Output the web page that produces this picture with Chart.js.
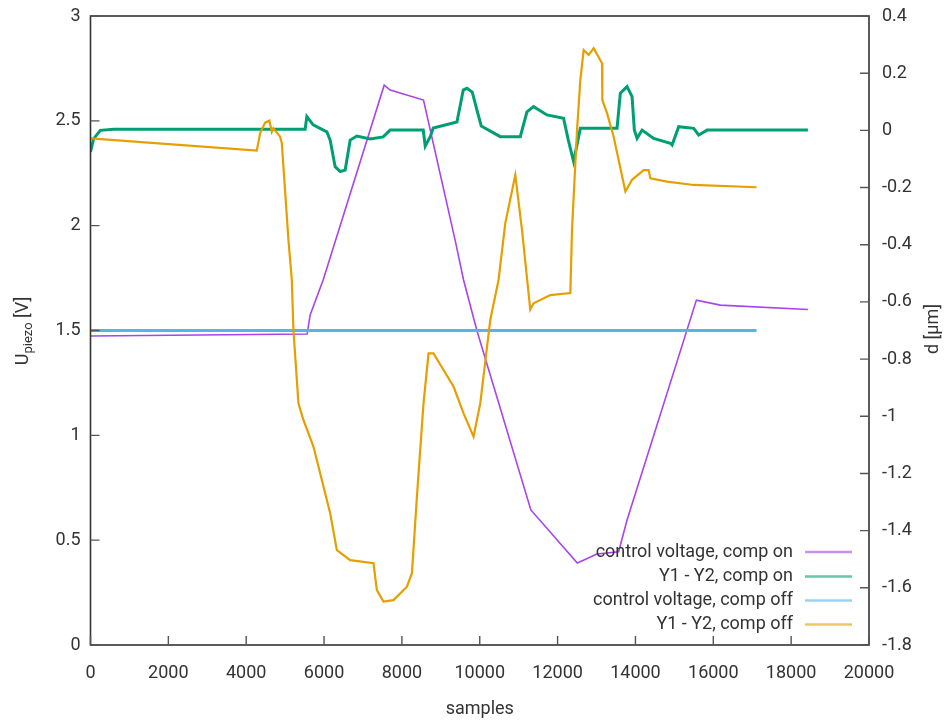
<!DOCTYPE html>
<html>
<head>
<meta charset="utf-8">
<script src="https://cdn.jsdelivr.net/npm/chart.js@4/dist/chart.umd.min.js"></script>
<style>
html,body{margin:0;padding:0;background:#fff;}
#wrap{width:949px;height:722px;}
</style>
</head>
<body>
<div id="wrap"><canvas id="c" width="949" height="722"></canvas></div>
<script>
// ---- data (samples on x; left axis U_piezo [V], right axis d [µm]) ----
const xTicks = [0,2000,4000,6000,8000,10000,12000,14000,16000,18000,20000];
const leftTicks = [0,0.5,1,1.5,2,2.5,3];
const rightTicks = [-1.8,-1.6,-1.4,-1.2,-1,-0.8,-0.6,-0.4,-0.2,0,0.2,0.4];
const seriesNames = ["control voltage, comp on","Y1 - Y2, comp on","control voltage, comp off","Y1 - Y2, comp off"];
const seriesColors = ["#a844ea","#009e73","#56b4e9","#e69f00"];

// control voltage, comp on (V)
const cvOnX = [0,5566,5643,5977,7545,7699,8555,9370,9584,9928,11313,12506,13011,13568,13784,15566,16180,18430];
const cvOnY = [1.474,1.483,1.574,1.741,2.670,2.647,2.599,1.929,1.741,1.499,0.644,0.391,0.434,0.445,0.596,1.645,1.621,1.600];

// Y1 - Y2, comp on (µm)
const dOnX = [0,80,250,600,5514,5558,5720,6072,6157,6285,6414,6543,6671,6843,7185,7519,7699,8548,8599,8728,8805,9414,9576,9671,9807,9961,10039,10527,11041,11213,11383,11727,12154,12275,12411,12584,13527,13612,13784,13913,13972,14041,14170,14468,14897,14941,15111,15496,15625,15841,18430];
const dOnY = [-0.075,-0.03,0.0,0.004,0.004,0.048,0.019,-0.005,-0.034,-0.127,-0.144,-0.139,-0.034,-0.020,-0.030,-0.023,0.001,0.001,-0.055,-0.022,0.008,0.029,0.141,0.147,0.134,0.054,0.015,-0.022,-0.022,0.065,0.083,0.054,0.042,-0.034,-0.109,0.007,0.007,0.130,0.153,0.118,0.001,-0.028,0.001,-0.028,-0.045,-0.051,0.013,0.007,-0.016,0.001,0.001];

// control voltage, comp off (V)
const cvOffX = [0,17110];
const cvOffY = [1.5,1.5];

// Y1 - Y2, comp off (µm)
const dOffX = [0,4272,4357,4486,4596,4658,4699,4871,4915,5085,5172,5213,5342,5470,5727,5943,6157,6329,6671,7270,7357,7527,7784,8129,8257,8386,8555,8684,8812,9069,9326,9584,9841,10013,10270,10483,10656,10913,11085,11298,11383,11812,12327,12370,12499,12584,12669,12797,12926,13141,13149,13270,13440,13741,13913,14211,14339,14383,14812,15496,17110];
const dOffY = [-0.028,-0.071,-0.010,0.027,0.034,-0.005,0.007,-0.022,-0.045,-0.383,-0.523,-0.698,-0.955,-1.013,-1.106,-1.223,-1.339,-1.468,-1.503,-1.514,-1.608,-1.648,-1.643,-1.596,-1.549,-1.281,-0.955,-0.780,-0.780,-0.838,-0.896,-0.990,-1.071,-0.955,-0.663,-0.523,-0.325,-0.156,-0.348,-0.627,-0.605,-0.576,-0.569,-0.348,0.001,0.176,0.281,0.264,0.287,0.235,0.106,0.060,-0.022,-0.214,-0.173,-0.139,-0.139,-0.168,-0.179,-0.191,-0.199];

function pts(xs, ys){ return xs.map((x,i)=>({x:x,y:ys[i]})); }

const FONT = 'Roboto, "Noto Sans", sans-serif';
const TXT = '#333333';
const FS = 18;

function fmt(v){ const r = Math.round(v*10)/10; return (Math.abs(r)<1e-9 ? 0 : r).toString(); }

const frame = {
  id:'frame',
  afterDraw(chart){
    const ctx = chart.ctx, a = chart.chartArea;
    const xs = chart.scales.x, yl = chart.scales.y, yr = chart.scales.y2;
    ctx.save();
    ctx.strokeStyle = '#333333';
    ctx.lineWidth = 1.6;
    ctx.strokeRect(a.left, a.top, a.right-a.left, a.bottom-a.top);
    ctx.lineWidth = 1.4;
    ctx.strokeStyle = '#555555';
    ctx.beginPath();
    xTicks.forEach(v=>{ const p = xs.getPixelForValue(v); ctx.moveTo(p, a.bottom); ctx.lineTo(p, a.bottom-9); });
    leftTicks.forEach(v=>{ const p = yl.getPixelForValue(v); ctx.moveTo(a.left, p); ctx.lineTo(a.left+9, p); });
    rightTicks.forEach(v=>{ const p = yr.getPixelForValue(v); ctx.moveTo(a.right, p); ctx.lineTo(a.right-9, p); });
    ctx.stroke();

    // tick labels
    ctx.fillStyle = TXT;
    ctx.font = FS + 'px ' + FONT;
    ctx.textBaseline = 'middle';
    ctx.textAlign = 'center';
    xTicks.forEach(v=>{ ctx.fillText(String(v), xs.getPixelForValue(v), 673); });
    ctx.textAlign = 'right';
    leftTicks.forEach(v=>{ ctx.fillText(fmt(v), a.left-10, yl.getPixelForValue(v)); });
    ctx.textAlign = 'left';
    rightTicks.forEach(v=>{ ctx.fillText(fmt(v), a.right+13, yr.getPixelForValue(v)); });

    // axis titles
    ctx.textAlign = 'center';
    ctx.fillText('samples', (a.left+a.right)/2, 709);

    // left title: U_piezo [V]
    ctx.save();
    ctx.translate(28, 331);
    ctx.rotate(-Math.PI/2);
    const big = FS + 'px ' + FONT, small = '13px ' + FONT;
    ctx.font = big; const wU = ctx.measureText('U').width, wV = ctx.measureText(' [V]').width;
    ctx.font = small; const wP = ctx.measureText('piezo').width;
    let x0 = -(wU+wP+wV)/2;
    ctx.textAlign = 'left'; ctx.textBaseline = 'alphabetic';
    ctx.font = big; ctx.fillText('U', x0, 0);
    ctx.font = small; ctx.fillText('piezo', x0+wU, 4);
    ctx.font = big; ctx.fillText(' [V]', x0+wU+wP, 0);
    ctx.restore();

    // right title
    ctx.save();
    ctx.translate(933, 329);
    ctx.rotate(-Math.PI/2);
    ctx.font = FS + 'px ' + FONT;
    ctx.textAlign = 'center'; ctx.textBaseline = 'middle';
    ctx.fillText('d [µm]', 0, 0);
    ctx.restore();

    // legend
    const rows = [552, 576.5, 600.5, 624.5];
    ctx.font = FS + 'px ' + FONT;
    ctx.textAlign = 'right'; ctx.textBaseline = 'middle';
    seriesNames.forEach((n,i)=>{
      ctx.fillStyle = TXT;
      ctx.fillText(n, 793, rows[i]);
      ctx.globalAlpha = 0.6;
      ctx.strokeStyle = seriesColors[i];
      ctx.lineWidth = 2.5;
      ctx.beginPath(); ctx.moveTo(805, rows[i]); ctx.lineTo(852, rows[i]); ctx.stroke();
      ctx.globalAlpha = 1;
    });
    ctx.restore();
  }
};

new Chart(document.getElementById('c'), {
  type:'line',
  data:{
    datasets:[
      {label:seriesNames[0], data:pts(cvOnX,cvOnY), yAxisID:'y', borderColor:seriesColors[0], borderWidth:1.6, order:3},
      {label:seriesNames[1], data:pts(dOnX,dOnY), yAxisID:'y2', borderColor:seriesColors[1], borderWidth:3, order:2},
      {label:seriesNames[2], data:pts(cvOffX,cvOffY), yAxisID:'y', borderColor:seriesColors[2], borderWidth:3, order:1},
      {label:seriesNames[3], data:pts(dOffX,dOffY), yAxisID:'y2', borderColor:seriesColors[3], borderWidth:2.2, order:0}
    ]
  },
  options:{
    responsive:false,
    animation:false,
    devicePixelRatio:1,
    layout:{padding:{top:16,left:0,right:0,bottom:0}},
    elements:{point:{radius:0}, line:{tension:0, fill:false}},
    plugins:{legend:{display:false}, tooltip:{enabled:false}},
    scales:{
      x:{type:'linear', min:0, max:20000,
        afterBuildTicks(s){ s.ticks = xTicks.map(v=>({value:v})); },
        afterFit(s){ s.height = 77; },
        grid:{display:false, drawTicks:false}, border:{display:false},
        ticks:{display:false}
      },
      y:{type:'linear', position:'left', min:0, max:3,
        afterBuildTicks(s){ s.ticks = leftTicks.map(v=>({value:v})); },
        afterFit(s){ s.width = 90.5; },
        grid:{display:false, drawTicks:false}, border:{display:false},
        ticks:{display:false}
      },
      y2:{type:'linear', position:'right', min:-1.8, max:0.4,
        afterBuildTicks(s){ s.ticks = rightTicks.map(v=>({value:v})); },
        afterFit(s){ s.width = 80; },
        grid:{display:false, drawTicks:false}, border:{display:false},
        ticks:{display:false}
      }
    }
  },
  plugins:[frame]
});
</script>
</body>
</html>
